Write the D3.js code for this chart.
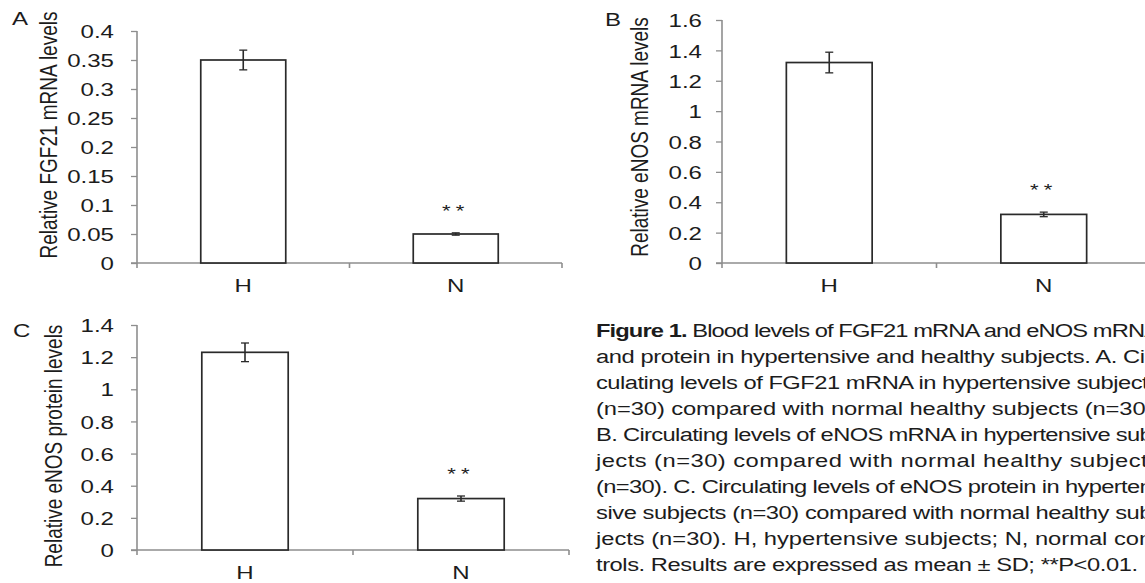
<!DOCTYPE html>
<html>
<head>
<meta charset="utf-8">
<script src="https://cdn.jsdelivr.net/npm/d3@7"></script>
<style>
  body { margin: 0; background: #fff; overflow: hidden; }
  svg { display: block; font-family: "Liberation Sans", Arial, sans-serif; }
</style>
</head>
<body>
<div id="chart"></div>
<script>
// values (mean and SD per group)
const groups = ["H", "N"];
const fgf21Mean = [0.35, 0.05];
const fgf21Sd = [0.017, 0.002];
const enosMrnaMean = [1.32, 0.32];
const enosMrnaSd = [0.068, 0.015];
const enosProteinMean = [1.23, 0.32];
const enosProteinSd = [0.058, 0.016];
const sigMarks = ["", "**"];

// tick labels
const ticksA = [0, 0.05, 0.1, 0.15, 0.2, 0.25, 0.3, 0.35, 0.4];
const ticksB = [0, 0.2, 0.4, 0.6, 0.8, 1, 1.2, 1.4, 1.6];
const ticksC = [0, 0.2, 0.4, 0.6, 0.8, 1, 1.2, 1.4];

const captionTitle = "Figure 1.";
const captionLines = [
  " Blood levels of FGF21 mRNA and eNOS mRNA",
  "and protein in hypertensive and healthy subjects. A. Cir-",
  "culating levels of FGF21 mRNA in hypertensive subjects",
  "(n=30) compared with normal healthy subjects (n=30).",
  "B. Circulating levels of eNOS mRNA in hypertensive sub-",
  "jects (n=30) compared with normal healthy subjects",
  "(n=30). C. Circulating levels of eNOS protein in hyperten-",
  "sive subjects (n=30) compared with normal healthy sub-",
  "jects (n=30). H, hypertensive subjects; N, normal con-",
  "trols. Results are expressed as mean \u00b1 SD; **P<0.01."
];

// the source image is stretched sideways, text gets the same stretch
const SX = 1.3;
const ink = "#1c1c1c";
const axisGrey = "#8e8e8e";

const svg = d3.select("#chart")
  .append("svg")
    .attr("width", 1145)
    .attr("height", 583);

function stretchedText(parent, x, y, str, size, rotate) {
  return parent.append("text")
    .attr("transform", `translate(${x},${y}) scale(${SX},1)` + (rotate ? " rotate(-90)" : ""))
    .attr("font-size", size)
    .attr("fill", ink)
    .text(str);
}

function drawPanel(cfg) {
  const g = svg.append("g");

  const x = d3.scaleBand()
    .domain(groups)
    .range([cfg.left, cfg.right])
    .paddingInner(0.6)
    .paddingOuter(0.3);

  const y = d3.scaleLinear()
    .domain([0, d3.max(cfg.ticks)])
    .range([cfg.bottom, cfg.top]);

  // y axis ticks (labels added by hand so they can be stretched)
  const yAxis = g.append("g")
    .attr("transform", `translate(${cfg.left},0)`)
    .call(d3.axisLeft(y).tickValues(cfg.ticks).tickSize(6).tickSizeOuter(0).tickFormat(""));
  yAxis.select(".domain").remove();
  yAxis.selectAll(".tick line").attr("stroke", axisGrey).attr("stroke-width", 1.3);
  yAxis.selectAll(".tick").append("text")
    .attr("transform", `translate(${-cfg.labelGap},0) scale(${SX},1)`)
    .attr("dy", "0.36em")
    .attr("text-anchor", "end")
    .attr("font-size", 18.5)
    .attr("fill", ink)
    .text(d => d3.format("~g")(d));

  // axis lines
  g.append("line")
    .attr("x1", cfg.left).attr("x2", cfg.left)
    .attr("y1", y(d3.max(cfg.ticks))).attr("y2", cfg.bottom + 5)
    .attr("stroke", axisGrey).attr("stroke-width", 1.6);
  g.append("line")
    .attr("x1", cfg.left - 6).attr("x2", cfg.right)
    .attr("y1", cfg.bottom).attr("y2", cfg.bottom)
    .attr("stroke", axisGrey).attr("stroke-width", 1.3);

  // category boundary ticks
  const mid = (x("H") + x.bandwidth() + x("N")) / 2;
  g.selectAll(".xtick")
    .data([mid, cfg.right])
    .join("line")
      .attr("x1", d => d).attr("x2", d => d)
      .attr("y1", cfg.bottom).attr("y2", cfg.bottom + 5)
      .attr("stroke", axisGrey).attr("stroke-width", 1.6);

  // bars
  g.selectAll(".bar")
    .data(groups)
    .join("rect")
      .attr("x", d => x(d))
      .attr("y", (d, i) => y(cfg.mean[i]))
      .attr("width", x.bandwidth())
      .attr("height", (d, i) => cfg.bottom - y(cfg.mean[i]))
      .attr("fill", "#fff")
      .attr("stroke", "#2a2a2a")
      .attr("stroke-width", 1.7);

  // error bars
  groups.forEach((d, i) => {
    const cx = x(d) + x.bandwidth() / 2;
    const hi = y(cfg.mean[i] + cfg.sd[i]);
    const lo = y(cfg.mean[i] - cfg.sd[i]);
    g.append("line")
      .attr("x1", cx).attr("x2", cx).attr("y1", hi).attr("y2", lo)
      .attr("stroke", "#2a2a2a").attr("stroke-width", 1.6);
    [hi, lo].forEach(v => {
      g.append("line")
        .attr("x1", cx - 4).attr("x2", cx + 4).attr("y1", v).attr("y2", v)
        .attr("stroke", "#2a2a2a").attr("stroke-width", 1.3);
    });
    if (sigMarks[i]) {
      stretchedText(g, cx, hi - 16, sigMarks[i], 17)
        .attr("text-anchor", "middle")
        .attr("letter-spacing", 4);
    }
    stretchedText(g, cx, cfg.bottom + 29, d, 18.5).attr("text-anchor", "middle");
  });

  // y title and panel letter
  stretchedText(g, cfg.titleX, cfg.titleY, cfg.title, 19, true)
    .attr("text-anchor", "middle")
    .attr("dy", "0.35em");
  stretchedText(g, cfg.letterX, cfg.letterY, cfg.letter, 18.5);
}

drawPanel({
  letter: "A", letterX: 12, letterY: 25,
  title: "Relative FGF21 mRNA  levels", titleX: 48, titleY: 135,
  left: 137, right: 562, top: 31, bottom: 263, labelGap: 23,
  ticks: ticksA, mean: fgf21Mean, sd: fgf21Sd
});

drawPanel({
  letter: "B", letterX: 605, letterY: 26,
  title: "Relative eNOS mRNA  levels", titleX: 639, titleY: 137,
  left: 722, right: 1151, top: 20, bottom: 263, labelGap: 20,
  ticks: ticksB, mean: enosMrnaMean, sd: enosMrnaSd
});

drawPanel({
  letter: "C", letterX: 13, letterY: 337,
  title: "Relative eNOS protein levels", titleX: 53, titleY: 446,
  left: 137, right: 569, top: 325, bottom: 550, labelGap: 23,
  ticks: ticksC, mean: enosProteinMean, sd: enosProteinSd
});

// caption: justified column that runs past the right edge like the source
const capSX = 1.32;
const capX = 596, capY = 337, capStep = 26, capWidth = 564, lastWidth = 542;
captionLines.forEach((line, i) => {
  const t = svg.append("text")
    .attr("transform", `translate(${capX},${capY + i * capStep}) scale(${capSX},1)`)
    .attr("font-size", 18)
    .attr("fill", ink)
    .attr("lengthAdjust", "spacing")
    .attr("textLength", (i < captionLines.length - 1 ? capWidth : lastWidth) / capSX);
  if (i === 0) {
    t.append("tspan").attr("font-weight", "bold").text(captionTitle);
  }
  t.append("tspan").text(line);
});
</script>
</body>
</html>
